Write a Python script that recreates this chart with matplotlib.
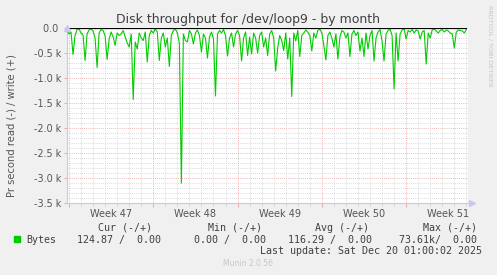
import numpy as np
import matplotlib
matplotlib.use("Agg")
import matplotlib.pyplot as plt
from matplotlib.transforms import ScaledTranslation

# read rate (bytes/s) sampled every 4 hours, starting 4h before Monday of week 47
read_bytes = [
    50, 120, 80, 530, 150, 30, 20, 100, 140, 650,
    120, 40, 20, 60, 200, 790, 100, 30, 50, 160,
    630, 220, 80, 180, 350, 100, 150, 120, 50, 180,
    300, 380, 120, 1430, 280, 420, 100, 200, 250, 80,
    680, 150, 50, 100, 20, 80, 650, 200, 100, 380,
    200, 770, 150, 50, 20, 100, 300, 3100, 120, 250,
    280, 50, 120, 320, 100, 40, 150, 480, 120, 200,
    600, 180, 80, 220, 1360, 120, 50, 100, 30, 150,
    560, 200, 100, 380, 120, 50, 150, 660, 200, 80,
    550, 180, 520, 100, 200, 500, 150, 80, 380, 200,
    550, 120, 50, 200, 860, 400, 150, 250, 450, 100,
    620, 200, 1370, 100, 260, 50, 570, 150, 100, 40,
    80, 150, 460, 100, 200, 50, 20, 100, 350, 640,
    150, 80, 200, 380, 120, 620, 180, 50, 80, 200,
    100, 570, 120, 50, 150, 80, 460, 200, 570, 100,
    420, 150, 50, 660, 200, 80, 30, 260, 660, 120,
    50, 20, 150, 1220, 100, 660, 120, 40, 20, 220,
    50, 80, 30, 100, 40, 60, 220, 80, 50, 720,
    100, 200, 40, 20, 60, 100, 50, 30, 80, 40,
    60, 100, 120, 400, 80, 40, 50, 60, 100, 30,
]
write_bytes = [0] * len(read_bytes)
sample_days = 1 / 6
start_day = -1 / 6

week_starts = [0, 7, 14, 21, 28]
week_labels = ["Week 47", "Week 48", "Week 49", "Week 50", "Week 51"]
ytick_values = [0, -500, -1000, -1500, -2000, -2500, -3000, -3500]
ytick_labels = ["0.0 ", "-0.5 k", "-1.0 k", "-1.5 k", "-2.0 k", "-2.5 k", "-3.0 k", "-3.5 k"]

t = start_day + np.arange(len(read_bytes)) * sample_days
read = -np.array(read_bytes, dtype=float)

W, H = 497, 275
fig = plt.figure(figsize=(W / 100, H / 100), dpi=100, facecolor="#f0f0f0")
ax = fig.add_axes([67 / W, 1 - 203 / H, 401 / W, 175 / H])
ax.set_facecolor("white")

x0, x1 = -2 / 12.04, 399 / 12.04
ax.set_xlim(x0, x1)
ax.set_ylim(-3500, 0)

minor_c = "#cfcfcf"
major_c = "#e6a0a0"
dots = (0, (1, 1.5))

# grid
for v in np.arange(-3400, 0, 100):
    if v % 500 != 0:
        ax.axhline(v, color=minor_c, lw=0.6, ls=dots, zorder=1)
for v in ytick_values[1:-1]:
    ax.axhline(v, color=major_c, lw=0.6, ls=dots, zorder=1)
for d in range(0, 34):
    ax.axvline(d, color=major_c if d % 7 == 0 else minor_c, lw=0.6, ls=dots, zorder=1)

ax.plot(t, read, color="#00cc00", lw=0.8, zorder=3)
ax.plot(t, write_bytes, color="black", lw=0.9, zorder=4)

ax.set_yticks(ytick_values)
ax.set_yticklabels(ytick_labels, fontsize=6.9, color="#555555")
ax.set_xticks(week_starts)
ax.set_xticklabels([])
ax.set_xticks(range(0, 34), minor=True)
ax.tick_params(axis="x", which="major", length=3, color=major_c, width=0.6)
ax.tick_params(axis="x", which="minor", length=2, color=minor_c, width=0.6)
ax.tick_params(axis="y", length=2, color=major_c, width=0.6, pad=2)

lab_tr = ax.get_xaxis_transform() + ScaledTranslation(0, -4 / 72, fig.dpi_scale_trans)
for d, lab in zip(week_starts, week_labels):
    ax.text(d + 3.5, 0, lab, fontsize=7, color="#555555",
            ha="center", va="top", transform=lab_tr)

for s in ["top", "right"]:
    ax.spines[s].set_visible(False)
for s in ["left", "bottom"]:
    ax.spines[s].set_color("#c8c8f0")
    ax.spines[s].set_linewidth(0.8)
ax.plot([x0], [0], marker="^", ms=4, color="#c8c8f0", clip_on=False, zorder=5)
ax.plot([x1 + 0.3], [-3500], marker=">", ms=4, color="#c8c8f0", clip_on=False, zorder=5)

fig.text(248 / W, 1 - 19 / H, "Disk throughput for /dev/loop9 - by month",
         fontsize=9, color="#404040", ha="center", va="center")
fig.text(12 / W, 1 - 126 / H, "Pr second read (-) / write (+)", fontsize=7.2,
         color="#555555", rotation=90, ha="center", va="center")
fig.text(490 / W, 1 - 5 / H, "RRDTOOL / TOBI OETIKER", fontsize=4.6, color="#c4c4c4",
         rotation=270, ha="center", va="top")

mono = dict(family="DejaVu Sans Mono", fontsize=7.2, color="#404040", va="center")
y1 = 1 - 228 / H
y2 = 1 - 240 / H
for xe, lab in [(152, "Cur (-/+)"), (262, "Min (-/+)"), (369, "Avg (-/+)"), (477, "Max (-/+)")]:
    fig.text(xe / W, y1, lab, ha="right", **mono)
fig.patches.append(plt.Rectangle((14 / W, 1 - 242 / H), 6 / W, 6 / H,
                                 color="#00cc00", transform=fig.transFigure, figure=fig))
fig.text(26 / W, y2, "Bytes", ha="left", **mono)
for xe, lab in [(161, "124.87 /  0.00"), (266, "0.00 /  0.00"),
                (372, "116.29 /  0.00"), (477, "73.61k/  0.00")]:
    fig.text(xe / W, y2, lab, ha="right", **mono)
fig.text(482 / W, 1 - 251 / H, "Last update: Sat Dec 20 01:00:02 2025", ha="right", **mono)
fig.text(248 / W, 1 - 264 / H, "Munin 2.0.56", fontsize=5.5, color="#c8c8c8",
         ha="center", va="center")

fig.savefig("out.png", dpi=100, facecolor=fig.get_facecolor())
